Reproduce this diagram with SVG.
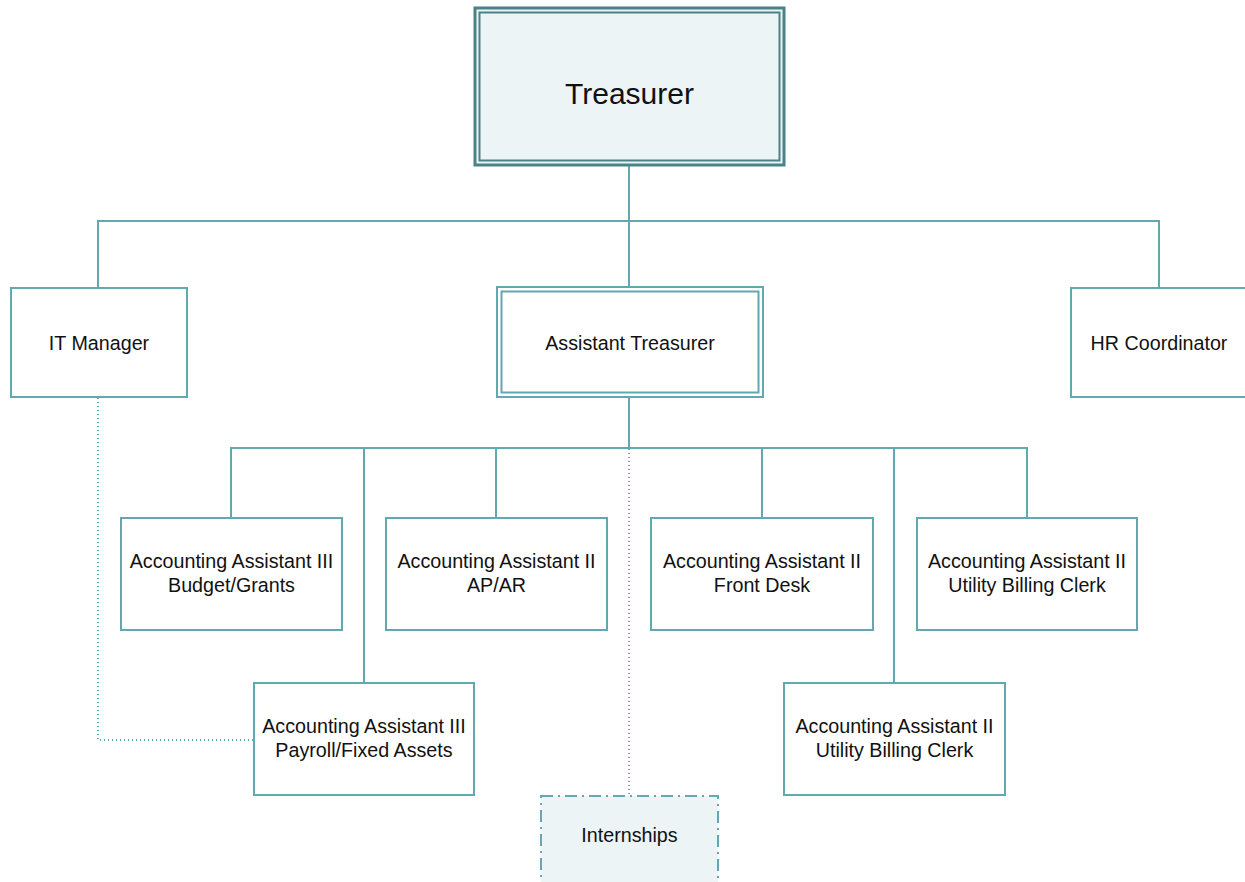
<svg xmlns="http://www.w3.org/2000/svg" width="1245" height="882" viewBox="0 0 1245 882">
  <style>
    .box { fill: #ffffff; stroke: #62a8b0; stroke-width: 2; }
    .label { font-family: "Liberation Sans", Arial, sans-serif; font-size: 19.7px; fill: #111111; text-anchor: middle; }
    .title { font-family: "Liberation Sans", Arial, sans-serif; font-size: 30px; fill: #111111; text-anchor: middle; }
    .wire { fill: none; stroke: #62a8b0; stroke-width: 2; }
    .dotted { fill: none; stroke: #62a8b0; stroke-width: 2; stroke-dasharray: 1 3; }
  </style>
  <rect width="1245" height="882" fill="#ffffff"/>

  <!-- connectors -->
  <g id="connectors">
    <path class="wire" d="M629 165 V287"/>
    <path class="wire" d="M98 287 V221 H1159 V287"/>
    <path class="wire" d="M629 397 V448"/>
    <path class="wire" d="M231 518 V448 H1027 V518"/>
    <path class="wire" d="M496 448 V518"/>
    <path class="wire" d="M762 448 V518"/>
    <path class="wire" d="M364 448 V683"/>
    <path class="wire" d="M894 448 V683"/>
    <path class="dotted" d="M629 449 V796"/>
    <path class="dotted" d="M98 398 V740 H254"/>
  </g>

  <!-- Treasurer -->
  <g id="treasurer">
    <rect x="475" y="8" width="309" height="157" fill="#ecf4f6" stroke="#4a8288" stroke-width="3"/>
    <rect x="479.5" y="12.5" width="300" height="148" fill="none" stroke="#4a8288" stroke-width="2"/>
    <text class="title" x="629.5" y="104">Treasurer</text>
  </g>

  <g id="it-manager">
    <rect class="box" x="11" y="288" width="176" height="109"/>
    <text class="label" x="99" y="350">IT Manager</text>
  </g>

  <g id="assistant-treasurer">
    <rect class="box" x="497" y="287" width="266" height="110"/>
    <rect class="box" x="501.5" y="291.5" width="257" height="101"/>
    <text class="label" x="630" y="350">Assistant Treasurer</text>
  </g>

  <g id="hr-coordinator">
    <rect class="box" x="1071" y="288" width="190" height="109"/>
    <text class="label" x="1159" y="350">HR Coordinator</text>
  </g>

  <g id="budget-grants">
    <rect class="box" x="121" y="518" width="221" height="112"/>
    <text class="label" x="231.5" y="568">Accounting Assistant III</text>
    <text class="label" x="231.5" y="592">Budget/Grants</text>
  </g>

  <g id="ap-ar">
    <rect class="box" x="386" y="518" width="221" height="112"/>
    <text class="label" x="496.5" y="568">Accounting Assistant II</text>
    <text class="label" x="496.5" y="592">AP/AR</text>
  </g>

  <g id="front-desk">
    <rect class="box" x="651" y="518" width="222" height="112"/>
    <text class="label" x="762" y="568">Accounting Assistant II</text>
    <text class="label" x="762" y="592">Front Desk</text>
  </g>

  <g id="utility-billing-1">
    <rect class="box" x="917" y="518" width="220" height="112"/>
    <text class="label" x="1027" y="568">Accounting Assistant II</text>
    <text class="label" x="1027" y="592">Utility Billing Clerk</text>
  </g>

  <g id="payroll">
    <rect class="box" x="254" y="683" width="220" height="112"/>
    <text class="label" x="364" y="733">Accounting Assistant III</text>
    <text class="label" x="364" y="757">Payroll/Fixed Assets</text>
  </g>

  <g id="utility-billing-2">
    <rect class="box" x="784" y="683" width="221" height="112"/>
    <text class="label" x="894.5" y="733">Accounting Assistant II</text>
    <text class="label" x="894.5" y="757">Utility Billing Clerk</text>
  </g>

  <g id="internships">
    <rect x="541" y="796" width="177" height="100" fill="#ecf4f6" stroke="#62a8b0" stroke-width="2" stroke-dasharray="12 5 2 5"/>
    <text class="label" x="629.5" y="842">Internships</text>
  </g>
</svg>
